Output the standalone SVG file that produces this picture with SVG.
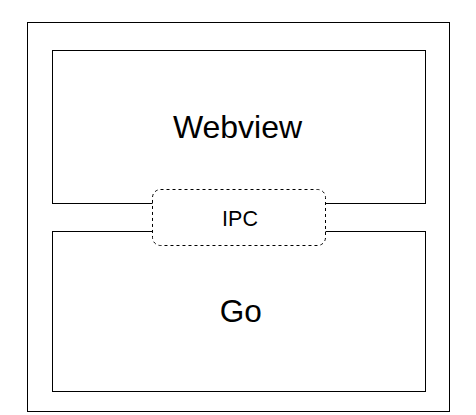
<svg xmlns="http://www.w3.org/2000/svg" width="476" height="415" viewBox="0 0 476 415">
<style>
.box{fill:#fff;stroke:#000;stroke-width:1}
.lbl{font-family:"Liberation Sans",Arial,sans-serif;fill:#000;text-anchor:middle}
</style>
<rect width="476" height="415" fill="#fff"/>
<g id="container"><rect class="box" x="27.5" y="22.5" width="422" height="389"/></g>
<g id="webview"><rect class="box" x="52.5" y="50.5" width="373" height="153"/><text class="lbl" x="237.5" y="138.3" font-size="32">Webview</text></g>
<g id="go"><rect class="box" x="52.5" y="231.5" width="373" height="160"/><text class="lbl" x="240.8" y="321.7" font-size="31.5">Go</text></g>
<g id="connectors"></g>
<g id="ipc"><rect x="152.5" y="189.5" width="173" height="56" rx="8" ry="8" fill="#fff" stroke="#000" stroke-width="1" stroke-dasharray="3 3"/><text class="lbl" x="240" y="225.7" font-size="21.5">IPC</text></g>
</svg>
